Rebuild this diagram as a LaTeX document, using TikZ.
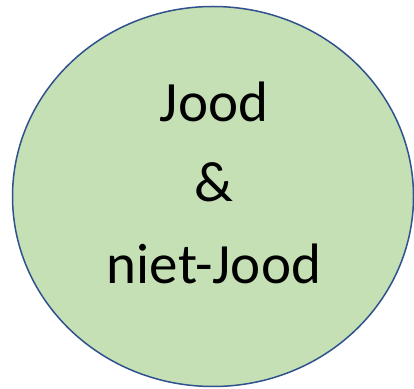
\documentclass[tikz,border=0pt]{standalone}
\usepackage{fontspec}
\setmainfont{Carlito}
\usetikzlibrary{shapes.geometric}
\definecolor{fillgreen}{HTML}{C5E0B4}
\definecolor{edgeblue}{HTML}{2F528F}
\begin{document}
\begin{tikzpicture}[x=1pt,y=1pt,
  blob/.style={ellipse,draw=edgeblue,fill=fillgreen,line width=1.5pt,inner sep=0pt},
  lbl/.style={anchor=base,font=\fontsize{57}{68}\selectfont,inner sep=0pt}]
\useasboundingbox (0,0) rectangle (414,388);
\node[blob,minimum width=401pt,minimum height=380pt] (e) at (213,191.5) {};
\node[lbl] (t1) at (214,266) {Jood};
\node[lbl] (t2) at (214,186) {\&};
\node[lbl] (t3) at (214,105) {niet-Jood};
\end{tikzpicture}
\end{document}
